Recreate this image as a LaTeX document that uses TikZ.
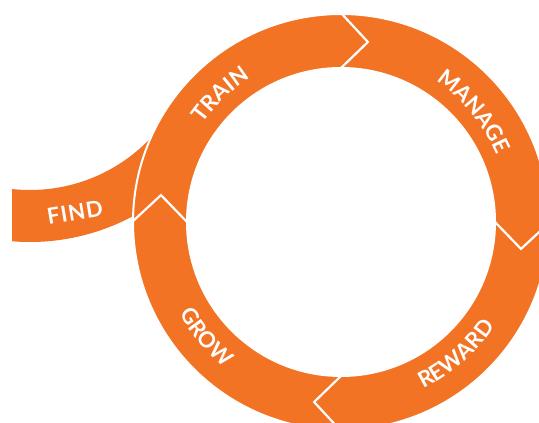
\documentclass[tikz,border=0pt]{standalone}
\usepackage{fontspec}
\newfontfamily\lblfont{Lato}[LetterSpace=5]
\usetikzlibrary{decorations.text}
\definecolor{brand}{RGB}{243,115,36}
\newcommand{\lblsize}{\lblfont\bfseries\fontsize{22}{22}\selectfont}
\begin{document}
\begin{tikzpicture}[x=1pt,y=1pt,
  ringlbl/.style={decorate, decoration={text along path, text align=center, text color=white}},
  divider/.style={draw=white, line width=2.2pt, line join=miter},
  lbl/.style={text=white, inner sep=0pt, font=\lblsize}]
\useasboundingbox (0,0) rectangle (539,423);
\clip (0,0) rectangle (539,423);
\coordinate (C) at (341,201);
\coordinate (B) at (30,399);
% FIND band
\begin{scope}
  \clip (12,0) rectangle (539,423);
  \fill[brand] ([shift={(255:166)}]B) arc[start angle=255, end angle=325, radius=166]
    -- ([shift={(325:218)}]B) arc[start angle=325, end angle=255, radius=218] -- cycle;
\end{scope}
% ring
\fill[brand, draw=white, line width=2pt] (C) circle[radius=208];
\fill[white] (C) circle[radius=155];
% dividers (chevrons pointing clockwise)
\foreach \a in {90,0,-90,180}
  \draw[divider] ([shift={(\a:154)}]C) -- ([shift={(\a-8.5:182)}]C) -- ([shift={(\a:209)}]C);
% labels
\path[ringlbl, decoration={text={|\lblsize|TRAIN}}]
  ([shift={(163.5:170)}]C) arc[start angle=163.5, end angle=103.5, radius=170];
\path[ringlbl, decoration={text={|\lblsize|MANAGE}}]
  ([shift={(69.6:170)}]C) arc[start angle=69.6, end angle=9.6, radius=170];
\path[ringlbl, decoration={text={|\lblsize|REWARD}}]
  ([shift={(-78.9:186)}]C) arc[start angle=-78.9, end angle=-18.9, radius=186];
\path[ringlbl, decoration={text={|\lblsize|GROW}}]
  ([shift={(190.5:186)}]C) arc[start angle=190.5, end angle=250.5, radius=186];
\node[lbl, rotate=9.5] (find) at (75,210.5) {FIND};
\end{tikzpicture}
\end{document}
